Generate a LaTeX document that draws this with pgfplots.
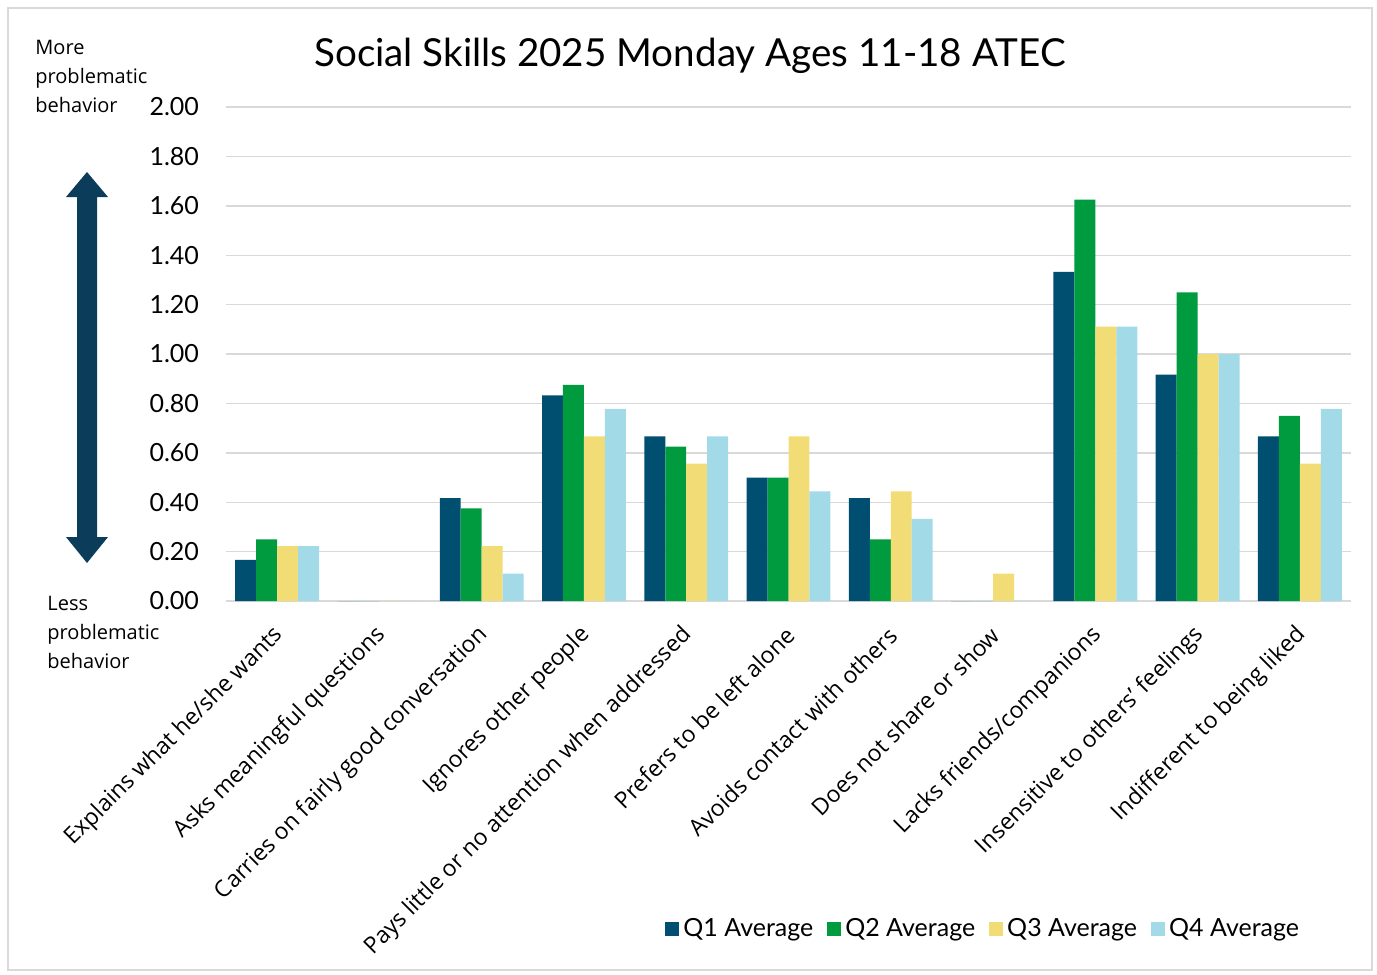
\documentclass[border=0pt]{standalone}
\usepackage{pgfplots}
\usepackage{pgfplotstable}
\pgfplotsset{compat=1.18}
\usepackage{fontspec}
\setmainfont{Open Sans}
\newfontfamily\gill{Lato}
\definecolor{cQone}{HTML}{004F71}
\definecolor{cQtwo}{HTML}{009B3E}
\definecolor{cQthree}{HTML}{F2DC76}
\definecolor{cQfour}{HTML}{A3DAE8}
\definecolor{arrowc}{HTML}{0B3D5A}
\definecolor{gridc}{HTML}{D9D9D9}
\pgfplotstableread{
x q1 q2 q3 q4
0 0.167 0.25 0.222 0.222
1 0 0 0 0
2 0.417 0.375 0.222 0.111
3 0.833 0.875 0.667 0.778
4 0.667 0.625 0.556 0.667
5 0.5 0.5 0.667 0.444
6 0.417 0.25 0.444 0.333
7 0 0 0.111 0
8 1.333 1.625 1.111 1.111
9 0.917 1.25 1.0 1.0
10 0.667 0.75 0.556 0.778
}\datatable
\begin{document}
\begin{tikzpicture}
\useasboundingbox (0,0) rectangle (688.5pt,-487.5pt);
\draw[gridc, line width=0.6pt] (4pt,-4pt) rectangle (686pt,-485pt);
\node[font=\gill\fontsize{19.3}{23}\selectfont, anchor=center] at (345pt,-28pt) {Social Skills 2025 Monday Ages 11-18 ATEC};
\node[font=\fontsize{10}{14.5}\selectfont, anchor=north west, align=left, inner sep=0pt] at (17.5pt,-20pt) {More\\problematic\\behavior};
\node[font=\fontsize{10}{14.5}\selectfont, anchor=north west, align=left, inner sep=0pt] at (23.5pt,-298pt) {Less\\problematic\\behavior};
% double arrow
\fill[arrowc] (43.5pt,-86pt) -- (54pt,-98.5pt) -- (48.5pt,-98.5pt) -- (48.5pt,-268.5pt) -- (54pt,-268.5pt) -- (43.5pt,-281.5pt) -- (33pt,-268.5pt) -- (38.5pt,-268.5pt) -- (38.5pt,-98.5pt) -- (33pt,-98.5pt) -- cycle;
\begin{axis}[
  at={(113pt,-300.5pt)}, anchor=south west,
  scale only axis, width=562.5pt, height=247pt,
  ybar=0pt, bar width=0.205,
  xmin=-0.5, xmax=10.5, ymin=0, ymax=2,
  ytick={0,0.2,...,2.01},
  ymajorgrids, grid style={gridc, line width=0.7pt},
  axis line style={draw=none},
  major tick length=0pt,
  xtick={0,...,10},
  xticklabels={Explains what he/she wants, Asks meaningful questions, Carries on fairly good conversation, Ignores other people, Pays little or no attention when addressed, Prefers to be left alone, Avoids contact with others, Does not share or show, Lacks friends/companions, Insensitive to others' feelings, Indifferent to being liked},
  xticklabel style={rotate=45, anchor=east, font=\fontsize{11.5}{13}\selectfont, yshift=-11.6pt, xshift=-6.5pt},
  /pgf/number format/assume math mode=true,
  yticklabel style={font=\gill\fontsize{12.5}{14}\selectfont, xshift=-10pt, /pgf/number format/fixed, /pgf/number format/fixed zerofill, /pgf/number format/precision=2},
  legend columns=4,
  legend style={draw=none, at={(0.674,-0.664)}, anchor=center, font=\gill\fontsize{12.5}{14}\selectfont, /tikz/every even column/.append style={column sep=5pt}},
  legend image code/.code={\fill[#1] (0pt,-3.5pt) rectangle (7pt,3.5pt);},
]
\addplot[fill=cQone, draw=none] table[x=x,y=q1] {\datatable};
\addplot[fill=cQtwo, draw=none] table[x=x,y=q2] {\datatable};
\addplot[fill=cQthree, draw=none] table[x=x,y=q3] {\datatable};
\addplot[fill=cQfour, draw=none] table[x=x,y=q4] {\datatable};
\legend{Q1 Average, Q2 Average, Q3 Average, Q4 Average}
\end{axis}
\end{tikzpicture}
\end{document}
